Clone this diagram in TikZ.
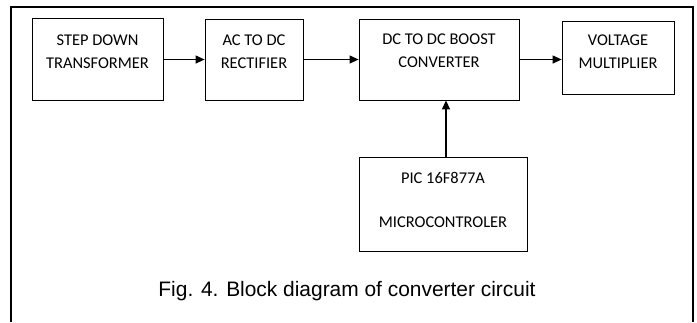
\documentclass[tikz,border=0pt]{standalone}
\usepackage{fontspec}
\setmainfont{Carlito}
\newfontfamily\capfont{Liberation Sans}
\usetikzlibrary{arrows.meta}
\tikzset{
  blockbox/.style={draw,line width=0.8pt,inner sep=0pt},
  blocktext/.style={align=center,font=\fontsize{16.5}{23}\selectfont},
  flow/.style={line width=1.2pt,-{Triangle[length=9pt,width=8pt]}}
}
\begin{document}
\begin{tikzpicture}[x=1bp,y=-1bp]
\useasboundingbox (0,0) rectangle (697,322);
% outer frame (open at the bottom)
\draw[line width=1.3pt] (11,322) -- (11,7) -- (693,7) -- (693,322);
% blocks
\node[blockbox,minimum width=131bp,minimum height=82bp] (sdt) at (97.5,59.5) {};
\node[blockbox,minimum width=98bp,minimum height=81bp] (rect) at (254,59.5) {};
\node[blockbox,minimum width=160bp,minimum height=81bp] (conv) at (439,59.5) {};
\node[blockbox,minimum width=112bp,minimum height=73bp] (mult) at (618,57.5) {};
\node[blockbox,minimum width=168bp,minimum height=94bp] (pic) at (443,204) {};
% block texts
\node[blocktext] at ([yshift=8bp]sdt.center) {STEP DOWN\\TRANSFORMER};
\node[blocktext] at ([yshift=8bp]rect.center) {AC TO DC\\RECTIFIER};
\node[blocktext] at ([yshift=9bp]conv.center) {DC TO DC BOOST\\CONVERTER};
\node[blocktext] at ([yshift=6bp]mult.center) {VOLTAGE\\MULTIPLIER};
\node[blocktext,font=\fontsize{16.5}{44}\selectfont] at ([yshift=4bp]pic.center) {PIC 16F877A\\MICROCONTROLER};
% connections
\draw[flow] (sdt.east) -- (rect.west);
\draw[flow] (rect.east) -- (conv.west);
\draw[flow] (conv.east) -- (conv.east -| mult.west);
\draw[flow] (pic.north -| 446,0) -- (conv.south -| 446,0);
% caption
\node[font=\capfont\fontsize{21}{24}\selectfont] (cap) at (347,291) {Fig. 4. Block diagram of converter circuit};
\end{tikzpicture}
\end{document}
